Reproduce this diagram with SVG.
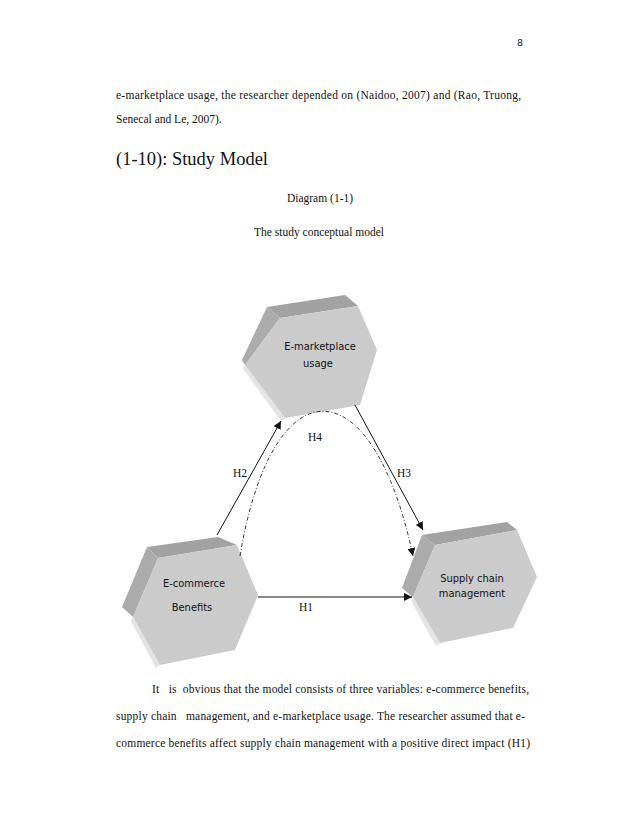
<svg xmlns="http://www.w3.org/2000/svg" width="638" height="826" viewBox="0 0 638 826">
<style>
.body{font-family:"Liberation Serif","Times New Roman",serif;font-size:11.5px;fill:#111;white-space:pre}
.hd{font-family:"Liberation Serif","Times New Roman",serif;font-size:19px;fill:#111}
.lbl{font-family:"Liberation Serif","Times New Roman",serif;font-size:11.5px;fill:#111}
.nt{font-family:"DejaVu Sans Condensed","DejaVu Sans",sans-serif;font-size:11px;fill:#111}
.front{fill:#cbcbcb}
.topb{fill:#a2a2a2}
.leftb{fill:#ababab}
.shadow{fill:#e4e4e4}
.ln{stroke:#111;stroke-width:1;fill:none}
.dash{stroke:#222;stroke-width:0.9;fill:none;stroke-dasharray:4 2 1 2}
</style>
<defs>
<marker id="ah" viewBox="0 0 10 10" refX="10" refY="5" markerWidth="8" markerHeight="8" markerUnits="userSpaceOnUse" orient="auto">
<path d="M0,0 L10,5 L0,10 z" fill="#111"/>
</marker>
</defs>
<rect width="638" height="826" fill="#fff"/>

<text x="517" y="46" font-family="DejaVu Sans, sans-serif" font-size="9.5" fill="#222">8</text>

<text class="body" x="116" y="99" textLength="405" lengthAdjust="spacing">e-marketplace usage, the researcher depended on (Naidoo, 2007) and (Rao, Truong,</text>
<text class="body" x="116" y="123">Senecal and Le, 2007).</text>
<text class="hd" x="116" y="165" textLength="152" lengthAdjust="spacingAndGlyphs">(1-10): Study Model</text>
<text class="body" x="320" y="202" text-anchor="middle">Diagram (1-1)</text>
<text class="body" x="319" y="236" text-anchor="middle">The study conceptual model</text>

<g id="node-emarketplace">
<polygon class="shadow" points="245,365 243,369 281,421 285,418"/>
<polygon class="topb" points="267,307 345,295 358,306 280,318"/>
<polygon class="leftb" points="267,307 280,318 245,365 242,360"/>
<polygon class="front" points="280,318 358,306 377,350 360,405 285,418 245,365"/>
<text class="nt" x="320" y="350" text-anchor="middle">E-marketplace</text>
<text class="nt" x="318" y="367" text-anchor="middle">usage</text>
</g>

<g id="node-ecommerce">
<polygon class="shadow" points="133,617 131,621 156,668 160,665"/>
<polygon class="topb" points="147,547 218,537 237,545 158,558"/>
<polygon class="leftb" points="147,547 158,558 133,617 122,607"/>
<polygon class="front" points="158,558 237,545 258,595 235,650 160,665 133,617"/>
<text class="nt" x="194" y="587" text-anchor="middle">E-commerce</text>
<text class="nt" x="192" y="611" text-anchor="middle">Benefits</text>
</g>

<g id="node-scm">
<polygon class="shadow" points="413,597 411,601 436,646 440,643"/>
<polygon class="topb" points="422,535 507,522 517,530 435,545"/>
<polygon class="leftb" points="422,535 435,545 413,597 402,588"/>
<polygon class="front" points="435,545 517,530 537,577 513,628 440,643 413,597"/>
<text class="nt" x="472" y="582" text-anchor="middle">Supply chain</text>
<text class="nt" x="472" y="597" text-anchor="middle">management</text>
</g>

<g id="connectors">
<line class="ln" x1="217" y1="535" x2="281" y2="421" marker-end="url(#ah)"/>
<line class="ln" x1="355" y1="405" x2="423" y2="530" marker-end="url(#ah)"/>
<line class="ln" x1="258" y1="597" x2="412" y2="597" marker-end="url(#ah)"/>
<path class="dash" d="M240,556 C272,363 372,363 413,556" marker-end="url(#ah)"/>
</g>

<text class="lbl" x="315" y="441" text-anchor="middle">H4</text>
<text class="lbl" x="240" y="477" text-anchor="middle">H2</text>
<text class="lbl" x="404" y="477" text-anchor="middle">H3</text>
<text class="lbl" x="306" y="611" text-anchor="middle">H1</text>

<text class="body" x="152" y="693" textLength="377" lengthAdjust="spacing">It   is  obvious that the model consists of three variables: e-commerce benefits,</text>
<text class="body" x="116" y="720" textLength="409" lengthAdjust="spacing">supply chain   management, and e-marketplace usage. The researcher assumed that e-</text>
<text class="body" x="116" y="747" textLength="414" lengthAdjust="spacing">commerce benefits affect supply chain management with a positive direct impact (H1)</text>
</svg>
